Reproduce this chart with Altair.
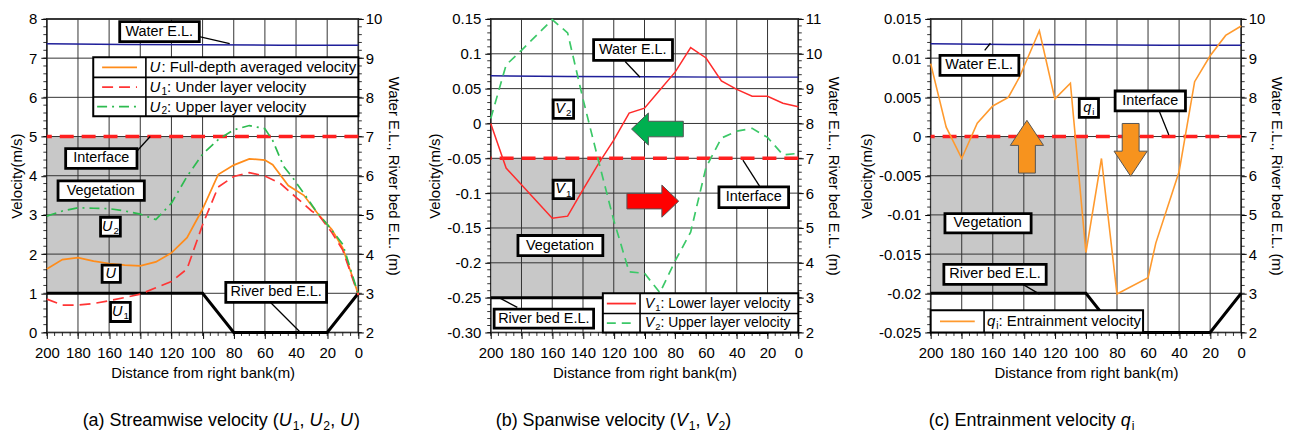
import altair as alt
import pandas as pd

FONT = "Liberation Sans"

# ---------------- panel (a): streamwise velocity ----------------
a_U_dist = [200, 190, 180, 170, 160, 150, 140, 130, 120, 110, 100, 90, 80, 70, 60, 55, 45, 35, 25, 17, 10, 0]
a_U = [1.62, 1.86, 1.91, 1.82, 1.76, 1.72, 1.70, 1.80, 2.03, 2.42, 3.15, 4.03, 4.27, 4.43, 4.40, 4.28, 3.75, 3.50, 2.98, 2.63, 2.15, 0.97]
a_U1_dist = [200, 190, 180, 170, 160, 150, 140, 130, 120, 110, 100, 90, 80, 70, 60, 50, 40, 30, 25, 17, 10, 0]
a_U1 = [0.85, 0.70, 0.70, 0.74, 0.81, 0.89, 0.98, 1.14, 1.30, 1.62, 2.75, 3.71, 3.98, 4.08, 3.99, 3.80, 3.45, 3.10, 2.97, 2.55, 2.10, 0.95]
a_U2_dist = [200, 190, 180, 170, 160, 150, 140, 130, 120, 110, 100, 90, 80, 70, 60, 55, 48, 42, 35, 27, 19, 10, 0]
a_U2 = [2.97, 3.10, 3.18, 3.17, 3.16, 3.10, 3.02, 2.88, 3.30, 3.98, 4.55, 4.92, 5.17, 5.28, 5.20, 4.90, 4.24, 3.94, 3.55, 3.09, 2.71, 2.25, 0.97]

# ---------------- panel (b): spanwise velocity ----------------
b_dist = [200, 190, 180, 170, 160, 150, 140, 130, 120, 110, 100, 90, 80, 70, 60, 50, 40, 30, 20, 10, 0]
b_V1 = [0.0, -0.064, -0.088, -0.112, -0.136, -0.133, -0.095, -0.058, -0.024, 0.015, 0.022, 0.048, 0.074, 0.109, 0.094, 0.061, 0.049, 0.039, 0.039, 0.029, 0.024]
b_V2 = [0.007, 0.084, 0.105, 0.127, 0.149, 0.130, 0.035, -0.053, -0.139, -0.213, -0.215, -0.243, -0.197, -0.156, -0.063, -0.021, -0.011, -0.007, -0.020, -0.045, -0.043]

# ---------------- panel (c): entrainment velocity ----------------
c_dist = [200, 190, 180, 170, 160, 150, 143, 130, 120, 110, 100, 90, 80, 60, 55, 40, 30, 20, 10, 0]
c_qi = [0.0093, 0.0012, -0.0028, 0.0017, 0.0039, 0.0050, 0.0075, 0.0135, 0.0048, 0.0068, -0.0148, -0.0028, -0.0201, -0.0180, -0.0136, -0.0045, 0.0070, 0.0103, 0.0129, 0.0141]

# ---------------- common geometry (elevation, m) ----------------
wl_dist = [200, 150, 100, 50, 0]
wl_el = [9.37, 9.35, 9.34, 9.33, 9.33]
bed_dist = [200, 100, 80, 20, 0]
bed_el = [3, 3, 2, 2, 3]
interface_el = [7]
veg_dist = [200, 100]
veg_el = [3, 7]

# ---------------- ticks ----------------
dist_ticks = list(range(0, 201, 20))
dist_minor = list(range(0, 201, 5))
a_vel_ticks = list(range(0, 9))
a_vel_minor = [round(i * 0.2, 2) for i in range(41)]
b_vel_ticks = [-0.30, -0.25, -0.2, -0.15, -0.1, -0.05, 0, 0.05, 0.1, 0.15]
b_vel_minor = [round(-0.30 + i * 0.01, 3) for i in range(46)]
c_vel_ticks = [-0.025, -0.02, -0.015, -0.01, -0.005, 0, 0.005, 0.01, 0.015]
c_vel_minor = [round(-0.025 + i * 0.001, 4) for i in range(41)]
a_el_ticks = list(range(2, 11))
b_el_ticks = list(range(2, 12))
c_el_ticks = list(range(2, 11))
a_el_minor = [round(2 + i * 0.2, 2) for i in range(41)]
b_el_minor = [round(2 + i * 0.2, 2) for i in range(46)]
c_el_minor = a_el_minor

# ---------------- annotation texts ----------------
box_texts = ["Water E.L.", "Interface", "Vegetation", "River bed E.L."]

GRID = "#333333"
VEG = "#c8c8c8"
H = 315

# Arial / Liberation Sans advance widths (per 1000 em)
AW = {' ': 278, '(': 333, ')': 333, ',': 278, ':': 278, '.': 278, '-': 333, '/': 278}
for ch in "0123456789":
    AW[ch] = 556
AW.update(dict(zip("abcdefghijklmnopqrstuvwxyz",
                   [556, 556, 500, 556, 556, 278, 556, 556, 222, 222, 500, 222, 833, 556, 556, 556, 556, 333, 500, 278, 556, 500, 722, 500, 500, 500])))
AW.update(dict(zip("ABCDEFGHIJKLMNOPQRSTUVWXYZ",
                   [667, 667, 722, 722, 667, 611, 778, 722, 278, 500, 667, 556, 833, 722, 778, 667, 778, 722, 667, 611, 722, 667, 944, 667, 667, 611])))


def tw(s, size):
    return sum(AW.get(c, 556) for c in s) * size / 1000.0


X_AXIS = alt.Axis(orient="bottom", values=dist_ticks, title="Distance from right bank(m)", grid=False, domain=False,
                  tickSize=6, tickColor="black", tickWidth=1, labelPadding=7, labelFont=FONT, labelFontSize=15,
                  labelColor="black", labelFlush=False, labelOverlap=False, format="d", titleFont=FONT,
                  titleFontSize=15, titleFontWeight="normal", titleColor="black", titlePadding=5)


def X(field="d"):
    return alt.X(f"{field}:Q", scale=alt.Scale(domain=[0, 200], reverse=True, nice=False, zero=False), axis=X_AXIS)


def Y(field, dom, axis=None):
    return alt.Y(f"{field}:Q", scale=alt.Scale(domain=dom, nice=False, zero=False), axis=axis)


def y_left_major(vals, expr):
    kw = dict(orient="left", values=vals, title="Velocity(m/s)", grid=False, domain=False, tickSize=6,
              tickColor="black", labelPadding=4, labelFont=FONT, labelFontSize=15, labelColor="black",
              labelOverlap=False, labelFlush=False, titleFont=FONT, titleFontSize=15, titleFontWeight="normal",
              titleColor="black", titlePadding=4)
    if expr:
        kw["labelExpr"] = expr
    return alt.Axis(**kw)


def y_right_major(vals):
    return alt.Axis(orient="right", values=vals, title="Water E.L., River bed E.L. (m)", grid=False, domain=False,
                    tickSize=5, tickColor="black", labelPadding=2, labelFont=FONT, labelFontSize=15,
                    labelColor="black", labelOverlap=False, labelFlush=False, format="d", titleFont=FONT,
                    titleFontSize=15, titleFontWeight="normal", titleColor="black", titlePadding=4, titleAngle=90)


def rich_layers(pieces, size, anchor, enc, data):
    parts = []
    cur = 0.0
    for txt, st in pieces:
        fs = size * 0.68 if st == 's' else size
        parts.append((txt, st, fs, cur))
        cur += tw(txt, fs) + (1.0 if st == 'i' else 0.0)
    shift = -cur / 2 if anchor == "center" else 0.0
    out = []
    for txt, st, fs, off in parts:
        out.append(alt.Chart(data).mark_text(
            text=txt, align="left", baseline="middle", dx=off + shift,
            dy=(size * 0.3 if st == 's' else 0), font=FONT, fontSize=fs,
            fontStyle=("italic" if st == 'i' else "normal"), color="black").encode(**enc))
    return out


LEFT_ARROW = "M -1 0 L -0.35 -0.62 L -0.35 -0.3 L 1 -0.3 L 1 0.3 L -0.35 0.3 L -0.35 0.62 Z"
RIGHT_ARROW = "M 1 0 L 0.35 -0.62 L 0.35 -0.3 L -1 -0.3 L -1 0.3 L 0.35 0.3 L 0.35 0.62 Z"
UP_ARROW = "M 0 -1 L 0.63 -0.05 L 0.32 -0.05 L 0.32 1 L -0.32 1 L -0.32 -0.05 L -0.63 -0.05 Z"
DOWN_ARROW = "M 0 1 L 0.63 0.05 L 0.32 0.05 L 0.32 -1 L -0.32 -1 L -0.32 0.05 L -0.63 0.05 Z"


def panel(P):
    vdom, edom, W = P["vdom"], P["edom"], P["width"]
    L = []
    # vegetation
    L.append(alt.Chart(pd.DataFrame({"d": [veg_dist[0]], "d2": [veg_dist[1]], "e": [veg_el[0]], "e2": [veg_el[1]]}))
             .mark_rect(color=VEG).encode(x=X("d"), x2=alt.X2("d2"), y=Y("e", edom), y2=alt.Y2("e2")))
    # grid (major axes)
    L.append(alt.Chart(pd.DataFrame({"d": dist_ticks})).mark_rule(color=GRID, strokeWidth=1)
             .encode(x=X("d")))
    L.append(alt.Chart(pd.DataFrame({"v": P["vticks"]})).mark_rule(color=GRID, strokeWidth=1)
             .encode(y=Y("v", vdom, y_left_major(P["vticks"], P["vexpr"]))))
    # minor ticks
    L.append(alt.Chart(pd.DataFrame({"d": dist_minor})).mark_rule(color="black", strokeWidth=0.8)
             .encode(x=X("d"), y=alt.value(H), y2=alt.value(H + 3.5)))
    L.append(alt.Chart(pd.DataFrame({"v": P["vminor"]})).mark_rule(color="black", strokeWidth=0.8)
             .encode(y=Y("v", vdom), x=alt.value(0), x2=alt.value(-3.5)))
    L.append(alt.Chart(pd.DataFrame({"e": P["eminor"]})).mark_rule(color="black", strokeWidth=0.8)
             .encode(y=Y("e", edom), x=alt.value(W), x2=alt.value(W + 3.5)))
    # water, bed, interface
    L.append(alt.Chart(pd.DataFrame({"d": wl_dist, "e": wl_el})).mark_line(color="#1f1f9a", strokeWidth=1.5)
             .encode(x=X("d"), y=Y("e", edom, y_right_major(P["eticks"]))))
    L.append(alt.Chart(pd.DataFrame({"d": bed_dist, "e": bed_el})).mark_line(color="black", strokeWidth=3)
             .encode(x=X("d"), y=Y("e", edom)))
    L.append(alt.Chart(pd.DataFrame({"e": interface_el})).mark_rule(color="#ff2020", strokeWidth=3.5, strokeDash=[14, 8])
             .encode(y=Y("e", edom)))
    # curves
    for dist, vals, color, dash, w in P["curves"]:
        mk = dict(color=color, strokeWidth=w)
        if dash:
            mk["strokeDash"] = dash
        L.append(alt.Chart(pd.DataFrame({"d": dist, "v": vals})).mark_line(**mk)
                 .encode(x=X("d"), y=Y("v", vdom)))
    # leader lines
    ld = P["leaders"]
    L.append(alt.Chart(pd.DataFrame({"d": ld[0], "v": ld[1], "d2": ld[2], "v2": ld[3]}))
             .mark_rule(color="black", strokeWidth=1.3)
             .encode(x=X("d"), y=Y("v", vdom), x2=alt.X2("d2"), y2=alt.Y2("v2")))
    # label boxes (shadow + box)
    bx = P["boxes"]
    bdf = pd.DataFrame({"d": bx[0], "d2": bx[1], "v": bx[2], "v2": bx[3]})
    L.append(alt.Chart(bdf).mark_rect(color="black", xOffset=1.8, yOffset=1.8)
             .encode(x=X("d"), x2=alt.X2("d2"), y=Y("v", vdom), y2=alt.Y2("v2")))
    L.append(alt.Chart(bdf).mark_rect(fill="white", stroke="black", strokeWidth=2.8)
             .encode(x=X("d"), x2=alt.X2("d2"), y=Y("v", vdom), y2=alt.Y2("v2")))
    for k, pieces in enumerate(P["box_pieces"]):
        xc = (bx[0][k] + bx[1][k]) / 2
        yc = (bx[2][k] + bx[3][k]) / 2
        L += rich_layers(pieces, 14.5, "center", dict(x=X("d"), y=Y("v", vdom)),
                         pd.DataFrame({"d": [xc], "v": [yc]}))
    # legend
    lg = P["legend"]
    L.append(alt.Chart(pd.DataFrame({"d": [lg["box"][0]], "d2": [lg["box"][1]], "v": [lg["box"][2]], "v2": [lg["box"][3]]}))
             .mark_rect(fill="white", stroke="black", strokeWidth=2)
             .encode(x=X("d"), x2=alt.X2("d2"), y=Y("v", vdom), y2=alt.Y2("v2")))
    L.append(alt.Chart(pd.DataFrame({"d": [lg["col"]], "v": [lg["box"][2]], "v2": [lg["box"][3]]}))
             .mark_rule(color="black", strokeWidth=1.6)
             .encode(x=X("d"), y=Y("v", vdom), y2=alt.Y2("v2")))
    if lg["rows_div"]:
        n = len(lg["rows_div"])
        L.append(alt.Chart(pd.DataFrame({"d": [lg["box"][0]] * n, "d2": [lg["box"][1]] * n, "v": lg["rows_div"]}))
                 .mark_rule(color="black", strokeWidth=1.6)
                 .encode(x=X("d"), x2=alt.X2("d2"), y=Y("v", vdom)))
    for (s1, s2, yc, color, dash, w), pieces in zip(lg["samples"], lg["texts"]):
        mk = dict(color=color, strokeWidth=w)
        if dash:
            mk["strokeDash"] = dash
        L.append(alt.Chart(pd.DataFrame({"d": [s1], "d2": [s2], "v": [yc]})).mark_rule(**mk)
                 .encode(x=X("d"), x2=alt.X2("d2"), y=Y("v", vdom)))
        L += rich_layers(pieces, lg["size"], "left", dict(x=X("d"), y=Y("v", vdom)),
                         pd.DataFrame({"d": [lg["text_x"]], "v": [yc]}))
    # arrows
    for (ad, av, shape, fill, size) in P["arrows"]:
        L.append(alt.Chart(pd.DataFrame({"d": [ad], "v": [av]}))
                 .mark_point(shape=shape, filled=True, fill=fill, stroke="#555555", strokeWidth=1, size=size, opacity=1)
                 .encode(x=X("d"), y=Y("v", vdom)))
    # caption
    L += rich_layers(P["caption"], 18, "left", dict(x=alt.value(P["cap_x"]), y=alt.value(404)),
                     pd.DataFrame({"k": [0]}))
    return alt.layer(*L).properties(width=W, height=H).resolve_scale(y="independent")


ORANGE = "#ff8c1a"
RED = "#ff3535"
GREEN = "#2dbb4f"

PA = dict(
    vdom=[0, 8], edom=[2, 10], vticks=a_vel_ticks, vminor=a_vel_minor, vexpr=None,
    eticks=a_el_ticks, eminor=a_el_minor, width=313,
    curves=[(a_U_dist, a_U, ORANGE, None, 1.7),
            (a_U1_dist, a_U1, RED, [11, 6], 1.7),
            (a_U2_dist, a_U2, GREEN, [10, 5, 2, 5], 1.7)],
    leaders=[[102.1, 142.1, 57.0], [7.55, 4.63, 0.79], [82.6, 133.6, 37.9], [7.37, 5.0, 0.03]],
    boxes=[[153.2, 187.9, 192.8, 85.1, 165.5, 164.5, 159.1],
           [102.1, 142.1, 137.4, 20.4, 152.8, 152.8, 146.4],
           [7.93, 4.69, 3.87, 1.28, 2.94, 1.72, 0.77],
           [7.42, 4.19, 3.37, 0.77, 2.46, 1.28, 0.28]],
    box_pieces=[[(box_texts[0], 'n')], [(box_texts[1], 'n')], [(box_texts[2], 'n')], [(box_texts[3], 'n')],
                [("U", 'i'), ("2", 's')], [("U", 'i')], [("U", 'i'), ("1", 's')]],
    legend=dict(box=[170.2, 0, 7.02, 5.52], col=136.4, rows_div=[6.51, 6.01], size=15, text_x=134.0,
                samples=[(164.5, 142.1, 6.765, ORANGE, None, 1.8),
                         (164.5, 142.1, 6.26, RED, [11, 6], 1.8),
                         (167.7, 140.0, 5.765, GREEN, [10, 5, 2, 5], 1.8)],
                texts=[[("U", 'i'), (": Full-depth averaged velocity", 'n')],
                       [("U", 'i'), ("1", 's'), (": Under layer velocity", 'n')],
                       [("U", 'i'), ("2", 's'), (": Upper layer velocity", 'n')]]),
    arrows=[],
    caption=[("(a) Streamwise velocity (", 'n'), ("U", 'i'), ("1", 's'), (", ", 'n'), ("U", 'i'), ("2", 's'),
             (", ", 'n'), ("U", 'i'), (")", 'n')],
    cap_x=36,
)

PB = dict(
    vdom=[-0.30, 0.15], edom=[2, 11], vticks=b_vel_ticks, vminor=b_vel_minor,
    vexpr="datum.value < -0.299 ? '-0.30' : toString(round(datum.value*100)/100)",
    eticks=b_el_ticks, eminor=b_el_minor, width=309,
    curves=[(b_dist, b_V1, "#ff2b2b", None, 1.5),
            (b_dist, b_V2, "#3cc868", [9, 6], 1.7)],
    leaders=[[112.6, 25.2, 182.7], [0.089, -0.090, -0.264], [102.9, 36.0, 194.6], [0.0664, -0.0527, -0.250]],
    boxes=[[133.1, 51.6, 182.3, 197.8, 159.4, 159.4],
           [81.8, 6.3, 127.1, 133.1, 146.1, 146.1],
           [0.1202, -0.0911, -0.1608, -0.2664, 0.0338, -0.0815],
           [0.0904, -0.1209, -0.1896, -0.2938, 0.0073, -0.1079]],
    box_pieces=[[(box_texts[0], 'n')], [(box_texts[1], 'n')], [(box_texts[2], 'n')], [(box_texts[3], 'n')],
                [("V", 'i'), ("2", 's')], [("V", 'i'), ("1", 's')]],
    legend=dict(box=[127.1, 0, -0.2438, -0.30], col=102.9, rows_div=[-0.2727], size=14, text_x=99.7,
                samples=[(124.5, 105.5, -0.2585, "#ff2b2b", None, 1.8),
                         (124.5, 105.5, -0.2865, "#3cc868", [9, 6], 1.8)],
                texts=[[("V", 'i'), ("1", 's'), (": Lower layer velocity", 'n')],
                       [("V", 'i'), ("2", 's'), (": Upper layer velocity", 'n')]]),
    arrows=[(91.6, -0.008, LEFT_ARROW, "#00b050", 2704),
            (94.6, -0.1115, RIGHT_ARROW, "#ff0000", 2704)],
    caption=[("(b) Spanwise velocity (", 'n'), ("V", 'i'), ("1", 's'), (", ", 'n'), ("V", 'i'), ("2", 's'), (")", 'n')],
    cap_x=5,
)

PC = dict(
    vdom=[-0.025, 0.015], edom=[2, 10], vticks=c_vel_ticks, vminor=c_vel_minor,
    vexpr="toString(round(datum.value*1000)/1000)",
    eticks=c_el_ticks, eminor=c_el_minor, width=312,
    curves=[(c_dist, c_qi, "#ff9a2e", None, 1.6)],
    leaders=[[165.2, 53.0, 140.6], [0.01098, 0.00336, -0.01886], [161.5, 46.6, 129.9], [0.0119, 0.0002, -0.0201]],
    boxes=[[194.0, 81.2, 190.8, 191.5, 104.3],
           [143.2, 35.9, 135.3, 125.6, 91.9],
           [0.01034, 0.00581, -0.00985, -0.01632, 0.00484],
           [0.0078, 0.00327, -0.0123, -0.01886, 0.00243]],
    box_pieces=[[(box_texts[0], 'n')], [(box_texts[1], 'n')], [(box_texts[2], 'n')], [(box_texts[3], 'n')],
                [("q", 'i'), ("i", 's')]],
    legend=dict(box=[200, 63.2, -0.02216, -0.025], col=165.6, rows_div=[], size=15, text_x=163.7,
                samples=[(194.0, 171.6, -0.02358, "#ff9a2e", None, 1.8)],
                texts=[[("q", 'i'), ("i", 's'), (": Entrainment velocity", 'n')]]),
    arrows=[(138.0, -0.0013, UP_ARROW, "#f7931e", 2809),
            (71.2, -0.0017, DOWN_ARROW, "#f7931e", 2809)],
    caption=[("(c) Entrainment velocity ", 'n'), ("q", 'i'), ("i", 's')],
    cap_x=-2,
)

chart = (alt.hconcat(panel(PA), panel(PB), panel(PC), spacing=133, bounds="flush")
         .properties(padding={"left": 0, "top": 2, "right": 0, "bottom": 0})
         .configure(font=FONT)
         .configure_view(stroke="black", strokeWidth=1.5))

chart.save("out.html", embed_options={"renderer": "svg", "actions": False})
